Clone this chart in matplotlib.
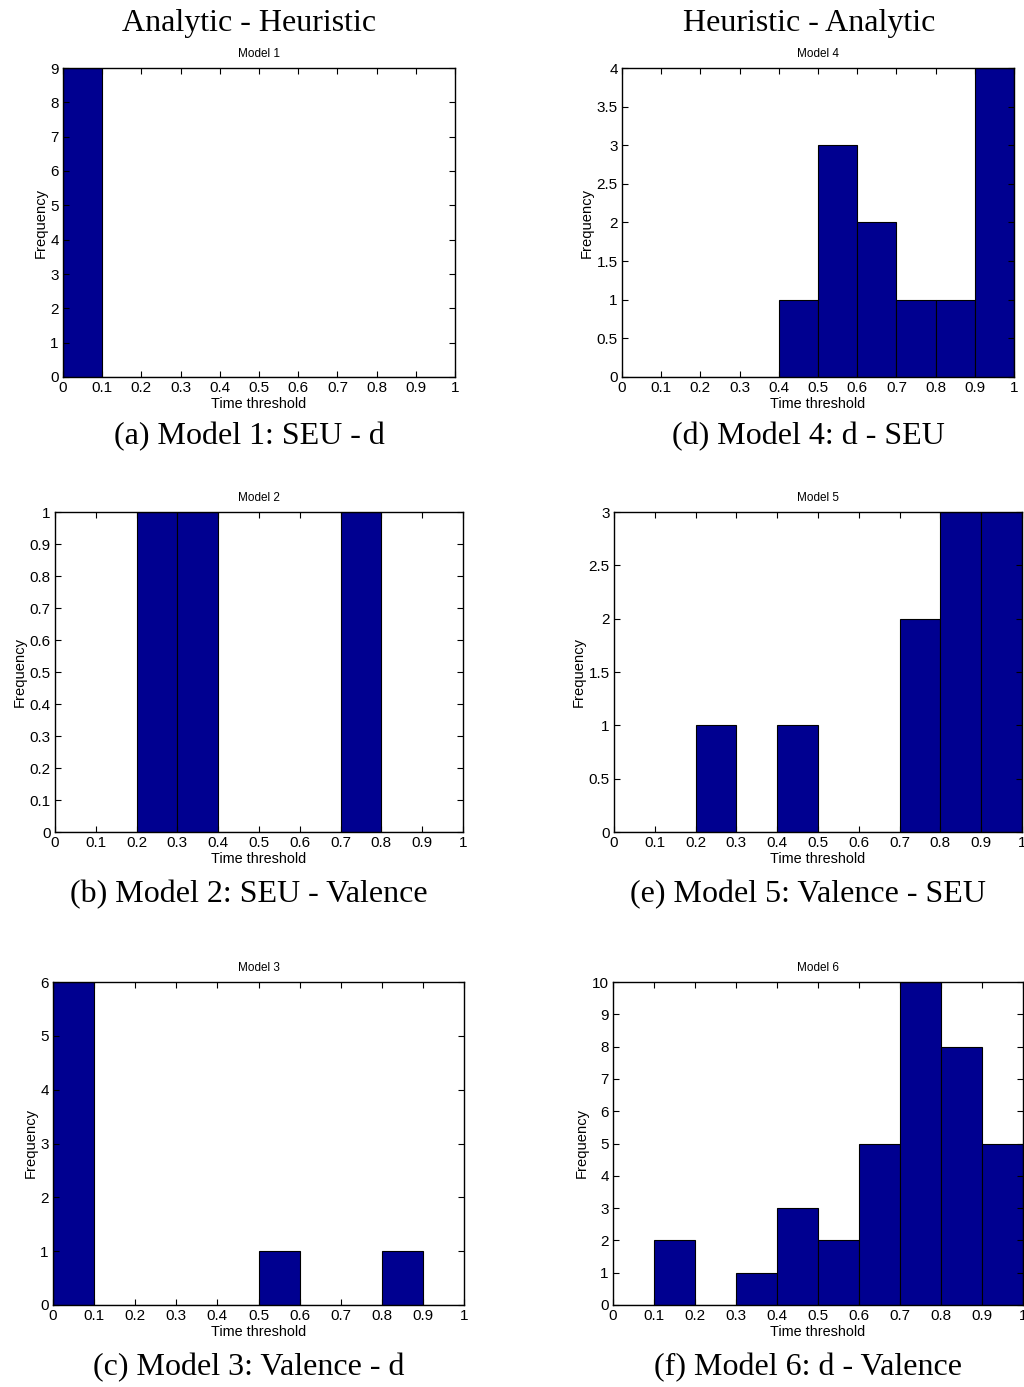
import matplotlib
matplotlib.use("Agg")
import matplotlib.pyplot as plt
from matplotlib.ticker import MultipleLocator, FuncFormatter

# bin left edges (width 0.1) shared by all histograms
bin_lefts = [0.0, 0.1, 0.2, 0.3, 0.4, 0.5, 0.6, 0.7, 0.8, 0.9]

counts_m1 = [9, 0, 0, 0, 0, 0, 0, 0, 0, 0]
counts_m2 = [0, 0, 1, 1, 0, 0, 0, 1, 0, 0]
counts_m3 = [6, 0, 0, 0, 0, 1, 0, 0, 1, 0]
counts_m4 = [0, 0, 0, 0, 1, 3, 2, 1, 1, 4]
counts_m5 = [0, 0, 1, 0, 1, 0, 0, 2, 3, 3]
counts_m6 = [0, 2, 0, 1, 3, 2, 5, 10, 8, 5]

titles = ["Model 1", "Model 2", "Model 3", "Model 4", "Model 5", "Model 6"]
captions = ["(a) Model 1: SEU - d", "(b) Model 2: SEU - Valence", "(c) Model 3: Valence - d",
            "(d) Model 4: d - SEU", "(e) Model 5: Valence - SEU", "(f) Model 6: d - Valence"]
headers = ["Analytic - Heuristic", "Heuristic - Analytic"]
y_steps = [1, 0.1, 1, 0.5, 0.5, 1]

W, H = 1024, 1387
fig = plt.figure(figsize=(W / 100, H / 100), dpi=100)

# axes boxes in pixels: left, right, top, bottom
boxes = [
    (63, 455, 68, 377),
    (55, 463, 512, 832),
    (53, 464, 982, 1305),
    (622, 1014, 68, 377),
    (614, 1022, 512, 832),
    (613, 1023, 982, 1305),
]
caption_pos = [(249, 437), (249, 895), (249, 1368), (808, 437), (808, 895), (808, 1368)]

all_counts = [counts_m1, counts_m2, counts_m3, counts_m4, counts_m5, counts_m6]

sans = ["Liberation Sans", "DejaVu Sans"]
serif = ["Liberation Serif", "DejaVu Serif"]

fmt = FuncFormatter(lambda v, p: "%g" % round(v, 2))

for i in range(6):
    l, r, t, b = boxes[i]
    ax = fig.add_axes([l / W, 1 - b / H, (r - l) / W, (b - t) / H])
    counts = all_counts[i]
    ax.bar(bin_lefts, counts, width=0.1, align='edge', color='#000090',
           edgecolor='black', linewidth=0.8)
    ax.set_xlim(0, 1)
    ax.set_ylim(0, max(counts))
    ax.xaxis.set_major_locator(MultipleLocator(0.1))
    ax.yaxis.set_major_locator(MultipleLocator(y_steps[i]))
    ax.xaxis.set_major_formatter(fmt)
    ax.yaxis.set_major_formatter(fmt)
    ax.tick_params(direction='in', top=True, right=True, length=4, width=0.8,
                   labelsize=11, pad=3)
    for lab in ax.get_xticklabels() + ax.get_yticklabels():
        lab.set_family(sans)
    for s in ax.spines.values():
        s.set_linewidth(1.0)
    ax.set_title(titles[i], fontsize=8.5, family=sans, pad=8)
    ax.set_xlabel("Time threshold", fontsize=10.4, family=sans, labelpad=1)
    ax.set_ylabel("Frequency", fontsize=10.6, family=sans, labelpad=2)
    cx, cy = caption_pos[i]
    fig.text(cx / W, 1 - cy / H, captions[i], ha='center', va='center',
             fontsize=23, family=serif)

fig.text(249 / W, 1 - 23 / H, headers[0], ha='center', va='center', fontsize=23, family=serif)
fig.text(809 / W, 1 - 23 / H, headers[1], ha='center', va='center', fontsize=23, family=serif)

fig.savefig("out.png", dpi=100)
